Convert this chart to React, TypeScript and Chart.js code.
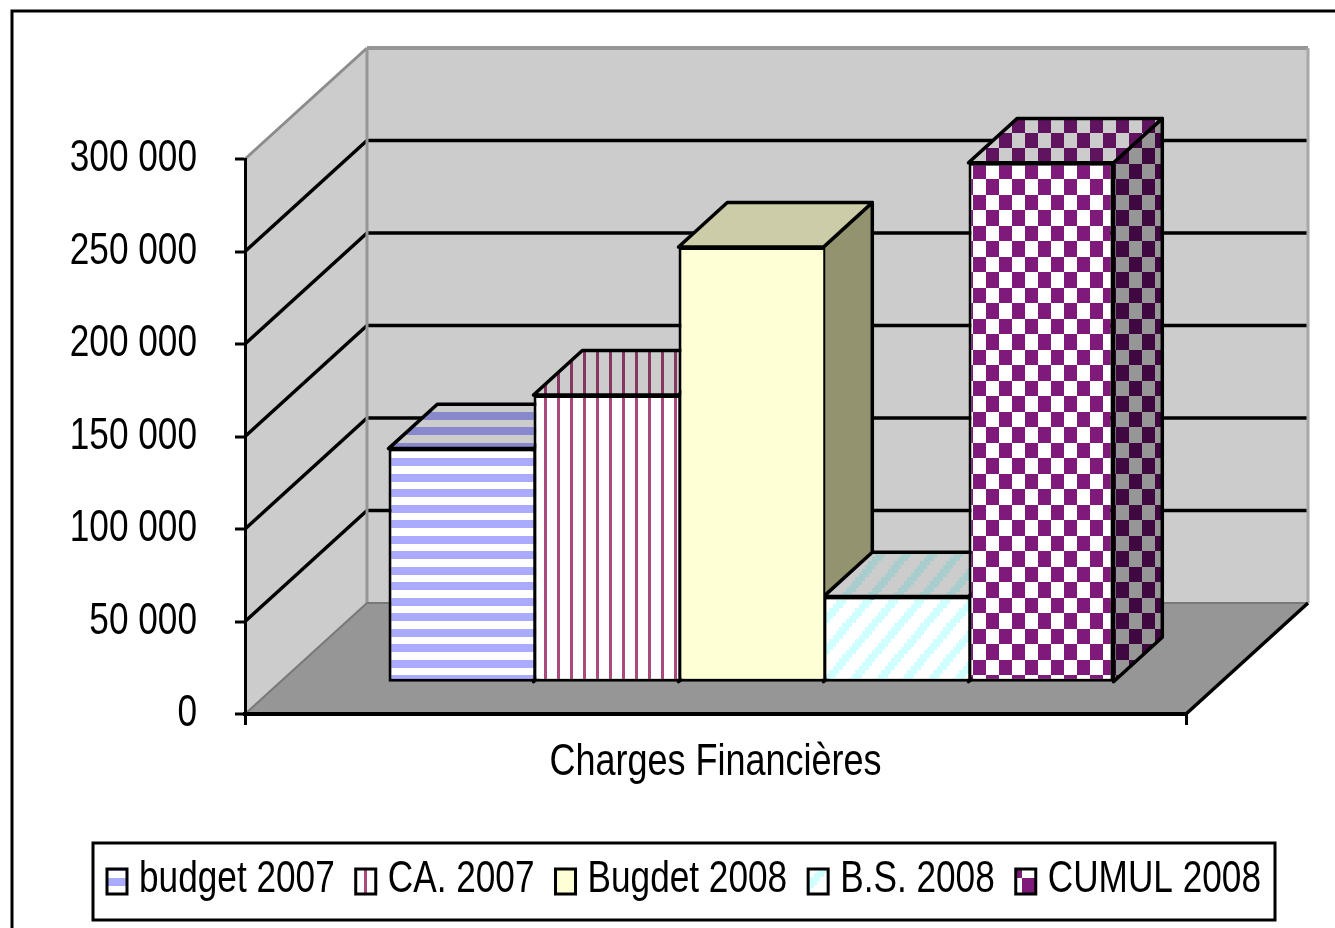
import React, { useEffect, useRef } from "react";
import { Chart, registerables } from "chart.js";

Chart.register(...registerables);

const categories = ["Charges Financières"];
const seriesNames = ["budget 2007", "CA. 2007", "Bugdet 2008", "B.S. 2008", "CUMUL 2008"];
const budget2007 = [126000];
const ca2007 = [155000];
const budget2008 = [235000];
const bs2008 = [46000];
const cumul2008 = [280500];
const yTickLabels = ["0", "50 000", "100 000", "150 000", "200 000", "250 000", "300 000"];
const yMax = 300000;
const yStep = 50000;

const FONT = "'Liberation Sans', Arial, sans-serif";
const NARROW = 0.8;
const W = 1335;
const H = 928;
const AREA = { left: 245, right: 1186, top: 159, bottom: 714 };
const DEPTH_X = 122;
const DEPTH_Y = 111;
const FRONT_X = 35.5;
const FRONT_Y = 32.3;
const BAR_X = DEPTH_X * 0.4;
const BAR_Y = DEPTH_Y * 0.4;
const LEGEND_BOX = { left: 93, right: 1275, top: 843, bottom: 920 };

type Kind = "h" | "v" | "d" | "c" | "s";

function makePattern(kind: Kind, fg: string, bg: string, ax: number, ay: number): CanvasPattern {
  const tile = document.createElement("canvas");
  tile.width = 26;
  tile.height = 31;
  const c = tile.getContext("2d")!;
  c.fillStyle = bg;
  c.fillRect(0, 0, 26, 31);
  c.fillStyle = fg;
  if (kind === "s") {
    c.fillRect(0, 0, 26, 31);
  } else if (kind === "h") {
    c.fillRect(0, 0, 26, 8);
    c.fillRect(0, 16, 26, 8);
  } else if (kind === "v") {
    c.fillRect(0, 0, 3, 31);
    c.fillRect(13, 0, 3, 31);
  } else if (kind === "c") {
    c.fillRect(0, 0, 13, 15);
    c.fillRect(13, 15, 13, 16);
  } else {
    for (let k = 0; k < 8; k++) {
      const y0 = Math.round((k * 31) / 8);
      const y1 = Math.round(((k + 1) * 31) / 8);
      const x0 = Math.round(((7 - k) * 26) / 8);
      c.fillRect(x0, y0, 10, y1 - y0);
      c.fillRect(x0 - 26, y0, 10, y1 - y0);
    }
  }
  const p = c.createPattern(tile, "repeat")!;
  p.setTransform(new DOMMatrix().translate(ax, ay));
  return p;
}

const looks: { kind: Kind; fg: string[]; ax: number; ay: number; sx: number; sy: number }[] = [
  { kind: "h", fg: ["#AAAAFF", "#8888CC", "#666699"], ax: 0, ay: 458, sx: 0, sy: 878 },
  { kind: "v", fg: ["#A94A7B", "#843860", "#66284A"], ax: 557, ay: 0, sx: 364, sy: 0 },
  { kind: "s", fg: ["#FFFFD5", "#CCCCA8", "#939370"], ax: 0, ay: 0, sx: 0, sy: 0 },
  { kind: "d", fg: ["#CFFFFF", "#A9CCCC", "#7B9999"], ax: 813, ay: 600, sx: 794, sy: 869 },
  { kind: "c", fg: ["#7F1A7A", "#601460", "#400840"], ax: 973, ay: 164, sx: 1009, sy: 863 },
];
const FACE_BG = ["#FFFFFF", "#CCCCCC", "#969696"];

function narrowText(ctx: CanvasRenderingContext2D) {
  const fill = ctx.fillText.bind(ctx);
  const measure = ctx.measureText.bind(ctx);
  ctx.fillText = (text: string, x: number, y: number) => {
    ctx.save();
    ctx.translate(x, y);
    ctx.scale(NARROW, 1);
    fill(text, 0, 0);
    ctx.restore();
  };
  ctx.measureText = (text: string) => ({ width: measure(text).width * NARROW }) as TextMetrics;
}

const scene = {
  id: "scene",
  beforeDraw(chart: any) {
    const ctx: CanvasRenderingContext2D = chart.ctx;
    const { left: l, right: r } = chart.chartArea;
    const yS = chart.scales.y;
    const y0 = yS.getPixelForValue(0);
    const yT = yS.getPixelForValue(yMax);
    ctx.save();
    ctx.fillStyle = "#FFFFFF";
    ctx.fillRect(0, 0, W, H);
    ctx.strokeStyle = "#000";
    ctx.lineWidth = 3;
    ctx.strokeRect(12, 11, W + 50, H + 50);

    const poly = (pts: number[][], fill: string) => {
      ctx.beginPath();
      pts.forEach((p, i) => (i ? ctx.lineTo(p[0], p[1]) : ctx.moveTo(p[0], p[1])));
      ctx.closePath();
      ctx.fillStyle = fill;
      ctx.fill();
    };
    const line = (a: number[], b: number[], color: string, w: number) => {
      ctx.beginPath();
      ctx.moveTo(a[0], a[1]);
      ctx.lineTo(b[0], b[1]);
      ctx.strokeStyle = color;
      ctx.lineWidth = w;
      ctx.stroke();
    };
    const bx = l + DEPTH_X;
    const brx = r + DEPTH_X;
    poly([[l, y0], [bx, y0 - DEPTH_Y], [bx, yT - DEPTH_Y], [l, yT]], "#CCCCCC");
    poly([[bx, yT - DEPTH_Y], [brx, yT - DEPTH_Y], [brx, y0 - DEPTH_Y], [bx, y0 - DEPTH_Y]], "#CCCCCC");
    poly([[l, y0], [bx, y0 - DEPTH_Y], [brx, y0 - DEPTH_Y], [r, y0]], "#969696");

    yS.ticks.forEach((t: any) => {
      if (t.value <= 0 || t.value >= yMax) return;
      const y = yS.getPixelForValue(t.value);
      line([l, y], [bx, y - DEPTH_Y], "#000", 3.5);
      line([bx, y - DEPTH_Y], [brx, y - DEPTH_Y], "#000", 3.5);
    });

    line([l, yT], [bx, yT - DEPTH_Y], "#8C8C8C", 3);
    line([bx, yT - DEPTH_Y], [brx, yT - DEPTH_Y], "#969696", 4);
    line([bx, yT - DEPTH_Y], [bx, y0 - DEPTH_Y], "#969696", 3);
    line([brx, yT - DEPTH_Y], [brx, y0 - DEPTH_Y], "#A8A8A8", 3);
    line([bx, y0 - DEPTH_Y], [brx, y0 - DEPTH_Y], "#787878", 2);
    line([l, y0], [bx, y0 - DEPTH_Y], "#787878", 2);
    line([r, y0], [brx, y0 - DEPTH_Y], "#000", 3.5);
    ctx.restore();
  },
  afterLayout(chart: any) {
    const lg = chart.legend;
    lg.left = LEGEND_BOX.left - 30;
    lg.right = LEGEND_BOX.right + 30;
    lg.top = 837;
    lg.bottom = 920;
  },
  beforeDatasetsDraw(chart: any) {
    const ctx: CanvasRenderingContext2D = chart.ctx;
    ctx.save();
    ctx.translate(FRONT_X, -FRONT_Y);
    ctx.lineWidth = 3.5;
    ctx.strokeStyle = "#000";
    ctx.lineJoin = "round";
    chart.data.datasets.forEach((ds: any, i: number) => {
      const bar = chart.getDatasetMeta(i).data[0];
      const { x, y, base, width } = bar.getProps(["x", "y", "base", "width"], true);
      const xL = x - width / 2;
      const xR = x + width / 2;
      const L = looks[i];
      ctx.beginPath();
      ctx.moveTo(xR, base);
      ctx.lineTo(xR + BAR_X, base - BAR_Y);
      ctx.lineTo(xR + BAR_X, y - BAR_Y);
      ctx.lineTo(xR, y);
      ctx.closePath();
      ctx.fillStyle = makePattern(L.kind, L.fg[2], FACE_BG[2], L.ax - FRONT_X, L.ay + FRONT_Y);
      ctx.fill();
      ctx.stroke();
      ctx.beginPath();
      ctx.moveTo(xL, y);
      ctx.lineTo(xR, y);
      ctx.lineTo(xR + BAR_X, y - BAR_Y);
      ctx.lineTo(xL + BAR_X, y - BAR_Y);
      ctx.closePath();
      ctx.fillStyle = makePattern(L.kind, L.fg[1], FACE_BG[1], L.ax - FRONT_X, L.ay + FRONT_Y);
      ctx.fill();
      ctx.stroke();
    });
  },
  afterDatasetsDraw(chart: any) {
    chart.ctx.restore();
  },
  afterDraw(chart: any) {
    const ctx: CanvasRenderingContext2D = chart.ctx;
    const lg = chart.legend;
    lg.adjustHitBoxes();
    ctx.save();
    ctx.lineWidth = 3;
    ctx.strokeStyle = "#000";
    ctx.strokeRect(LEGEND_BOX.left, LEGEND_BOX.top, LEGEND_BOX.right - LEGEND_BOX.left, LEGEND_BOX.bottom - LEGEND_BOX.top);
    lg.legendHitBoxes.forEach((hb: any, i: number) => {
      const L = looks[i];
      ctx.fillStyle = makePattern(L.kind, L.fg[0], FACE_BG[0], L.sx, L.sy);
      ctx.fillRect(hb.left, 869, 20, 25);
      ctx.strokeRect(hb.left, 869, 20, 25);
    });
    ctx.restore();
  },
};

export default function App() {
  const ref = useRef<HTMLCanvasElement>(null);
  useEffect(() => {
    const values = [budget2007, ca2007, budget2008, bs2008, cumul2008];
    narrowText(ref.current!.getContext("2d")!);
    const chart = new Chart(ref.current!, {
      type: "bar",
      plugins: [scene],
      data: {
        labels: categories,
        datasets: seriesNames.map((label, i) => {
          const L = looks[i];
          return {
            label,
            data: values[i],
            backgroundColor: makePattern(L.kind, L.fg[0], FACE_BG[0], L.ax - FRONT_X, L.ay + FRONT_Y),
            borderColor: "#000",
            borderWidth: { left: 3, top: 3, bottom: 3, right: i === seriesNames.length - 1 ? 3 : 0 },
            borderSkipped: false,
            barPercentage: 1,
            categoryPercentage: 725 / 941,
            clip: false,
          };
        }) as any,
      },
      options: {
        responsive: false,
        animation: false,
        layout: { padding: { top: AREA.top, right: 0, left: 0, bottom: 0 } },
        scales: {
          x: {
            afterFit(s: any) {
              s.height = H - AREA.bottom - (s.chart.legend?.height ?? 82);
            },
            grid: { offset: true, drawOnChartArea: false, drawTicks: true, color: "#000", lineWidth: 3, tickLength: 11 },
            border: { display: true, color: "#000", width: 4 },
            ticks: { color: "#000", padding: 11, font: { family: FONT, size: 45 }, maxRotation: 0 },
          },
          y: {
            min: 0,
            max: yMax,
            afterFit(s: any) {
              s.width = AREA.left;
            },
            grid: { drawOnChartArea: false, drawTicks: true, color: "#000", lineWidth: 0, tickWidth: 3, tickLength: 10 },
            border: { display: true, color: "#000", width: 3 },
            ticks: {
              stepSize: yStep,
              color: "#000",
              padding: 38,
              labelOffset: 0,
              font: { family: FONT, size: 44 },
              callback: (_v: any, i: number) => yTickLabels[i],
            },
          },
          reserve: {
            type: "linear",
            position: "right",
            afterFit(s: any) {
              s.width = W - AREA.right;
            },
            grid: { display: false },
            border: { display: false },
            ticks: { display: false },
          },
        },
        plugins: {
          tooltip: { enabled: false },
          title: { display: false },
          legend: {
            display: true,
            position: "bottom",
            labels: {
              boxWidth: 10,
              boxHeight: 20,
              padding: 21,
              color: "#000",
              font: { family: FONT, size: 44 },
              generateLabels: () =>
                seriesNames.map((text, i) => ({
                  text,
                  fillStyle: "rgba(0,0,0,0)",
                  strokeStyle: "rgba(0,0,0,0)",
                  lineWidth: 0,
                  hidden: false,
                  datasetIndex: i,
                  fontColor: "#000",
                })),
            },
          },
        },
      } as any,
    });
    return () => chart.destroy();
  }, []);
  return (
    <canvas
      ref={ref}
      width={W}
      height={H}
      style={{ position: "absolute", left: 0, top: 0, width: W, height: H, display: "block" }}
    />
  );
}
